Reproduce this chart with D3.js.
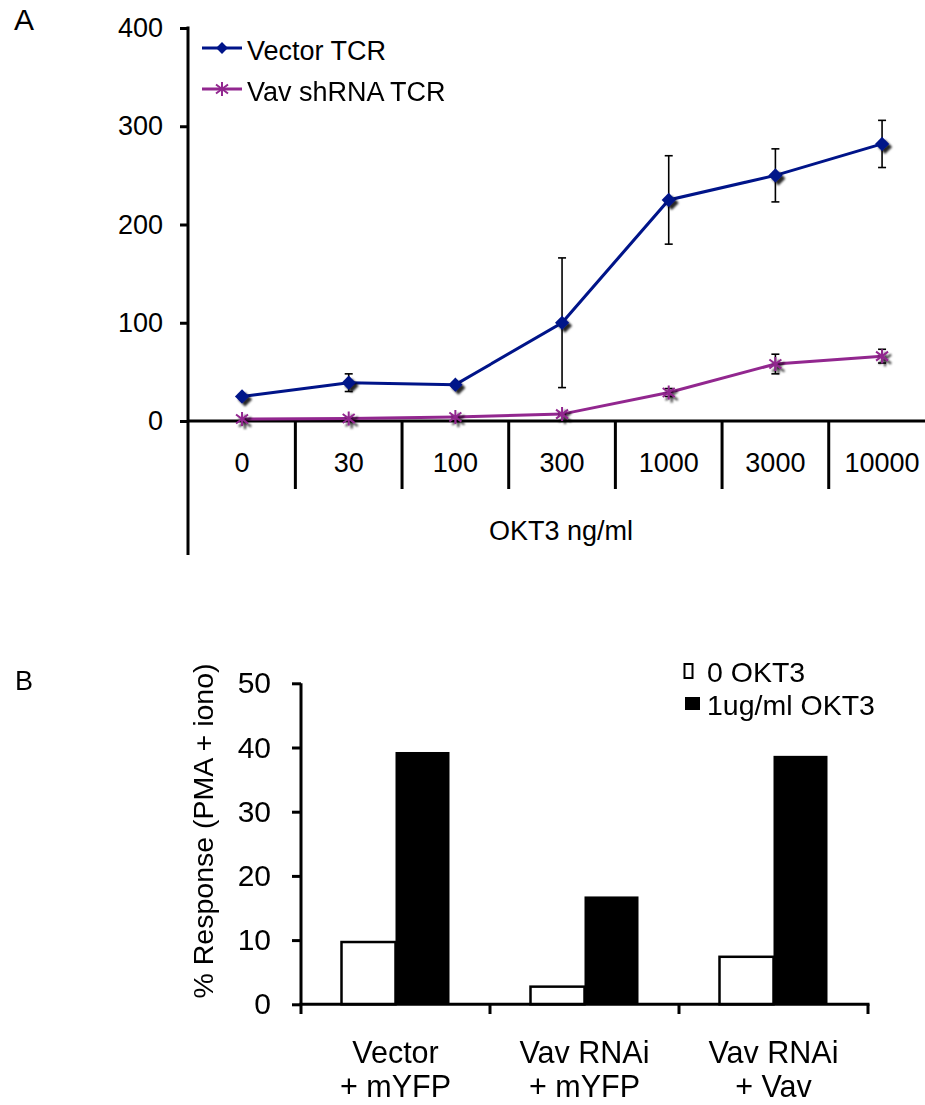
<!DOCTYPE html>
<html>
<head>
<meta charset="utf-8">
<script src="https://cdn.jsdelivr.net/npm/d3@7"></script>
<style>
  body { margin: 0; background: #fff; }
  text { font-family: "Liberation Sans", Arial, Helvetica, sans-serif; fill: #000; }
</style>
</head>
<body>
<script>
"use strict";

const width = 925;
const height = 1105;

// Panel A data
const doses = ["0", "30", "100", "300", "1000", "3000", "10000"];
const vectorTCR = [25, 39, 37, 100, 225, 250, 282];
const vectorErr = [0, 9, 2, 66, 45, 27, 24];
const vavTCR = [2, 2.5, 4, 7, 29, 58, 66];
const vavErr = [0, 0, 1, 1, 4, 10, 7];
const yTicksA = [0, 100, 200, 300, 400];

// Panel B data
const groupLine1 = ["Vector", "Vav RNAi", "Vav RNAi"];
const groupLine2 = ["+ mYFP", "+ mYFP", "+ Vav"];
const noOKT3 = [9.7, 2.75, 7.4];
const withOKT3 = [39.3, 16.8, 38.7];
const yTicksB = [0, 10, 20, 30, 40, 50];

const blue = "#001489";
const purple = "#92278f";

const svg = d3
  .select("body")
  .append("svg")
  .attr("width", width)
  .attr("height", height);

// marker shadow
const defs = svg.append("defs");
defs
  .append("filter")
  .attr("id", "shadow")
  .attr("x", "-50%")
  .attr("y", "-50%")
  .attr("width", "200%")
  .attr("height", "200%")
  .append("feDropShadow")
  .attr("dx", 3)
  .attr("dy", 3)
  .attr("stdDeviation", 1.2)
  .attr("flood-color", "#000")
  .attr("flood-opacity", 0.85);

/* ---------- Panel A ---------- */
const xA = d3.scaleBand().domain(doses).range([188.7, 935.4]);
const yA = d3.scaleLinear().domain([0, 400]).range([421, 28]);
const cx = (i) => xA(doses[i]) + xA.bandwidth() / 2;

svg.append("text").attr("x", 14).attr("y", 30).attr("font-size", 30).text("A");

// y axis
const gyA = svg
  .append("g")
  .attr("transform", "translate(188,0)")
  .call(d3.axisLeft(yA).tickValues(yTicksA).tickSize(8).tickPadding(17));
gyA.select(".domain").remove();
gyA.selectAll(".tick line").attr("stroke", "#000").attr("stroke-width", 3);
gyA.selectAll(".tick text").attr("font-size", 27).attr("font-family", null);
svg
  .append("line")
  .attr("x1", 188).attr("x2", 188)
  .attr("y1", yA(400) - 1.5).attr("y2", 555)
  .attr("stroke", "#000").attr("stroke-width", 3);

// x axis
svg
  .append("line")
  .attr("x1", 188).attr("x2", width)
  .attr("y1", yA(0)).attr("y2", yA(0))
  .attr("stroke", "#000").attr("stroke-width", 3);
svg
  .selectAll(".sepA")
  .data(doses.slice(1))
  .enter()
  .append("line")
  .attr("x1", (d) => xA(d)).attr("x2", (d) => xA(d))
  .attr("y1", yA(0)).attr("y2", 489)
  .attr("stroke", "#000").attr("stroke-width", 3);
svg
  .selectAll(".doseLabel")
  .data(doses)
  .enter()
  .append("text")
  .attr("x", (d) => xA(d) + xA.bandwidth() / 2)
  .attr("y", 472)
  .attr("text-anchor", "middle")
  .attr("font-size", 27)
  .text((d) => d);
svg
  .append("text")
  .attr("x", 561)
  .attr("y", 540)
  .attr("text-anchor", "middle")
  .attr("font-size", 27)
  .text("OKT3 ng/ml");

const line = d3
  .line()
  .x((d, i) => cx(i))
  .y((d) => yA(d));

function errorBars(vals, errs) {
  const g = svg.append("g").attr("stroke", "#000").attr("stroke-width", 1.6);
  vals.forEach((v, i) => {
    if (!errs[i]) return;
    const x = cx(i);
    g.append("line").attr("x1", x).attr("x2", x).attr("y1", yA(v + errs[i])).attr("y2", yA(v - errs[i]));
    g.append("line").attr("x1", x - 4).attr("x2", x + 4).attr("y1", yA(v + errs[i])).attr("y2", yA(v + errs[i]));
    g.append("line").attr("x1", x - 4).attr("x2", x + 4).attr("y1", yA(v - errs[i])).attr("y2", yA(v - errs[i]));
  });
}

const diamond = d3.symbol(d3.symbolSquare, 100);
const star = "M0,-7L0,7M-6,-4.5L6,4.5M-6,4.5L6,-4.5";

// Vav shRNA series
errorBars(vavTCR, vavErr);
svg.append("path").datum(vavTCR).attr("d", line)
  .attr("fill", "none").attr("stroke", purple).attr("stroke-width", 3);
svg.append("g").attr("filter", "url(#shadow)")
  .selectAll("path").data(vavTCR).enter().append("path")
  .attr("transform", (d, i) => `translate(${cx(i)},${yA(d)})`)
  .attr("d", star).attr("fill", "none").attr("stroke", purple).attr("stroke-width", 2);

// Vector series
errorBars(vectorTCR, vectorErr);
svg.append("path").datum(vectorTCR).attr("d", line)
  .attr("fill", "none").attr("stroke", blue).attr("stroke-width", 3);
svg.append("g").attr("filter", "url(#shadow)")
  .selectAll("path").data(vectorTCR).enter().append("path")
  .attr("transform", (d, i) => `translate(${cx(i)},${yA(d)}) rotate(45)`)
  .attr("d", diamond).attr("fill", blue);

// legend A
const legA = [
  { name: "Vector TCR", color: blue, y: 48 },
  { name: "Vav shRNA TCR", color: purple, y: 89 }
];
legA.forEach((l, i) => {
  svg.append("line").attr("x1", 202).attr("x2", 242).attr("y1", l.y).attr("y2", l.y)
    .attr("stroke", l.color).attr("stroke-width", 3);
  if (i === 0) {
    svg.append("path").attr("transform", `translate(222,${l.y}) rotate(45)`)
      .attr("d", d3.symbol(d3.symbolSquare, 70)).attr("fill", l.color);
  } else {
    svg.append("path").attr("transform", `translate(222,${l.y})`)
      .attr("d", star).attr("fill", "none").attr("stroke", l.color).attr("stroke-width", 2);
  }
  svg.append("text").attr("x", 247).attr("y", l.y + 12).attr("font-size", 27).text(l.name);
});

/* ---------- Panel B ---------- */
const groups = d3.range(groupLine1.length);
const xB = d3.scaleBand().domain(groups).range([301, 868]);
const xSub = d3.scaleBand().domain(["none", "okt3"]).range([0, xB.bandwidth()]).paddingOuter(0.75);
const yB = d3.scaleLinear().domain([0, 50]).range([1004.3, 683.3]);

svg.append("text").attr("x", 15).attr("y", 690).attr("font-size", 27).text("B");

const gyB = svg
  .append("g")
  .attr("transform", "translate(301,0)")
  .call(d3.axisLeft(yB).tickValues(yTicksB).tickSize(9).tickPadding(21));
gyB.select(".domain").attr("stroke", "#000").attr("stroke-width", 3).attr("d", `M0,${yB(50)}V${yB(0)}`);
gyB.selectAll(".tick line").attr("stroke", "#000").attr("stroke-width", 3);
gyB.selectAll(".tick text").attr("font-size", 30).attr("font-family", null);

svg.append("text")
  .attr("transform", `translate(213,831) rotate(-90)`)
  .attr("text-anchor", "middle")
  .attr("font-size", 28.5)
  .text("% Response (PMA + iono)");

// bars
svg.selectAll(".barNone").data(noOKT3).enter().append("rect")
  .attr("x", (d, i) => xB(i) + xSub("none"))
  .attr("y", (d) => yB(d))
  .attr("width", xSub.bandwidth())
  .attr("height", (d) => yB(0) - yB(d))
  .attr("fill", "#fff").attr("stroke", "#000").attr("stroke-width", 2.5);
svg.selectAll(".barOkt").data(withOKT3).enter().append("rect")
  .attr("x", (d, i) => xB(i) + xSub("okt3"))
  .attr("y", (d) => yB(d))
  .attr("width", xSub.bandwidth())
  .attr("height", (d) => yB(0) - yB(d))
  .attr("fill", "#000");

// x axis B
svg.append("line")
  .attr("x1", 299.5).attr("x2", 869.5).attr("y1", yB(0)).attr("y2", yB(0))
  .attr("stroke", "#000").attr("stroke-width", 3);
svg.selectAll(".sepB").data(groups.concat([groups.length])).enter().append("line")
  .attr("x1", (d) => 301 + d * xB.step()).attr("x2", (d) => 301 + d * xB.step())
  .attr("y1", yB(0)).attr("y2", 1014)
  .attr("stroke", "#000").attr("stroke-width", 3);

const labB = svg.selectAll(".groupLabel").data(groups).enter().append("text")
  .attr("text-anchor", "middle")
  .attr("font-size", 30.5);
labB.append("tspan").attr("x", (d) => xB(d) + xB.bandwidth() / 2).attr("y", 1063).text((d) => groupLine1[d]);
labB.append("tspan").attr("x", (d) => xB(d) + xB.bandwidth() / 2).attr("y", 1097).text((d) => groupLine2[d]);

// legend B
svg.append("rect").attr("x", 684.5).attr("y", 664).attr("width", 8).attr("height", 14)
  .attr("fill", "#fff").attr("stroke", "#000").attr("stroke-width", 2);
svg.append("rect").attr("x", 685).attr("y", 697).attr("width", 15).attr("height", 13).attr("fill", "#000");
svg.append("text").attr("x", 707).attr("y", 682).attr("font-size", 28.5).text("0 OKT3");
svg.append("text").attr("x", 707).attr("y", 715).attr("font-size", 28.5).text("1ug/ml OKT3");
</script>
</body>
</html>
